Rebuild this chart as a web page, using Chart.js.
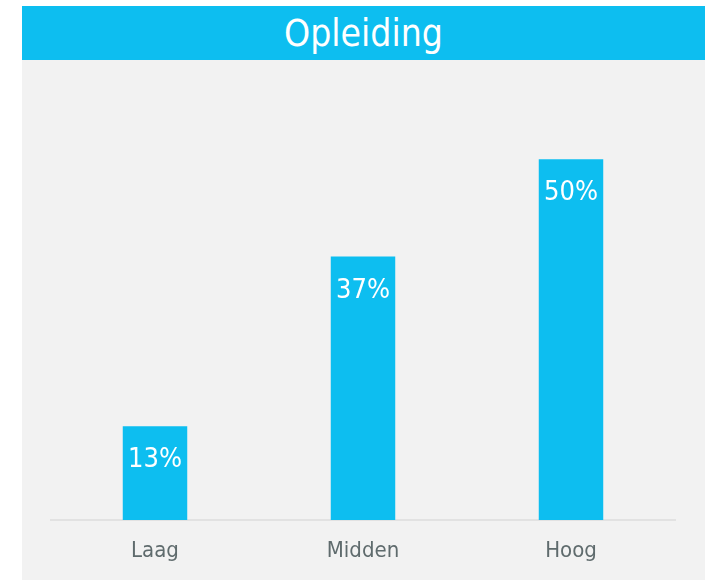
<!DOCTYPE html>
<html>
<head>
<meta charset="utf-8">
<script src="https://cdn.jsdelivr.net/npm/chart.js@4"></script>
<style>
    body { margin: 0; background: #ffffff; }
    #title {
        position: absolute; left: 22px; top: 6px; width: 683px; height: 54px;
        background: #0dbef0; color: #ffffff; text-align: center;
        font-family: "DejaVu Sans Condensed", "DejaVu Sans", sans-serif;
        font-size: 37px; line-height: 56px;
    }
    #panel {
        position: absolute; left: 22px; top: 60px; width: 683px; height: 520px;
        background: #f2f2f2;
    }
</style>
</head>
<body>
<div id="title">Opleiding</div>
<div id="panel"><canvas id="opleidingChart" width="683" height="520"></canvas></div>
<script>
    const categories = ['Laag', 'Midden', 'Hoog'];
    const percentages = [13, 36.5, 50];
    const barColor = '#0dbef0';

    // eigen plugin om de (afgeronde) percentages in de balken te schrijven
    const valueLabels = {
        id: 'valueLabels',
        afterDatasetsDraw(chart) {
            const ctx = chart.ctx;
            const meta = chart.getDatasetMeta(0);
            ctx.save();
            ctx.fillStyle = '#ffffff';
            ctx.font = '27px "DejaVu Sans Condensed", "DejaVu Sans", sans-serif';
            ctx.textAlign = 'center';
            ctx.textBaseline = 'middle';
            meta.data.forEach(function (bar, i) {
                ctx.fillText(Math.round(percentages[i]) + '%', bar.x, bar.y + 34);
            });
            ctx.restore();
        }
    };

    const ctx = document.getElementById('opleidingChart').getContext('2d');
    new Chart(ctx, {
        type: 'bar',
        data: {
            labels: categories,
            datasets: [{
                data: percentages,
                backgroundColor: barColor,
                borderWidth: 0,
                barPercentage: 0.62,
                categoryPercentage: 0.5
            }]
        },
        options: {
            responsive: false,
            animation: false,
            layout: { padding: { left: 29, right: 30, top: 27, bottom: 0 } },
            plugins: {
                legend: { display: false },
                tooltip: { enabled: false }
            },
            scales: {
                x: {
                    grid: { display: true, drawOnChartArea: false, drawTicks: false },
                    border: { display: true, color: '#e2e2e2', width: 2 },
                    ticks: {
                        color: '#5f6b6d',
                        padding: 18,
                        font: { family: '"DejaVu Sans Condensed", "DejaVu Sans", sans-serif', size: 22 }
                    },
                    afterFit: function (scale) { scale.height = 60; }
                },
                y: {
                    display: false,
                    min: 0,
                    max: 60
                }
            }
        },
        plugins: [valueLabels]
    });
</script>
</body>
</html>
